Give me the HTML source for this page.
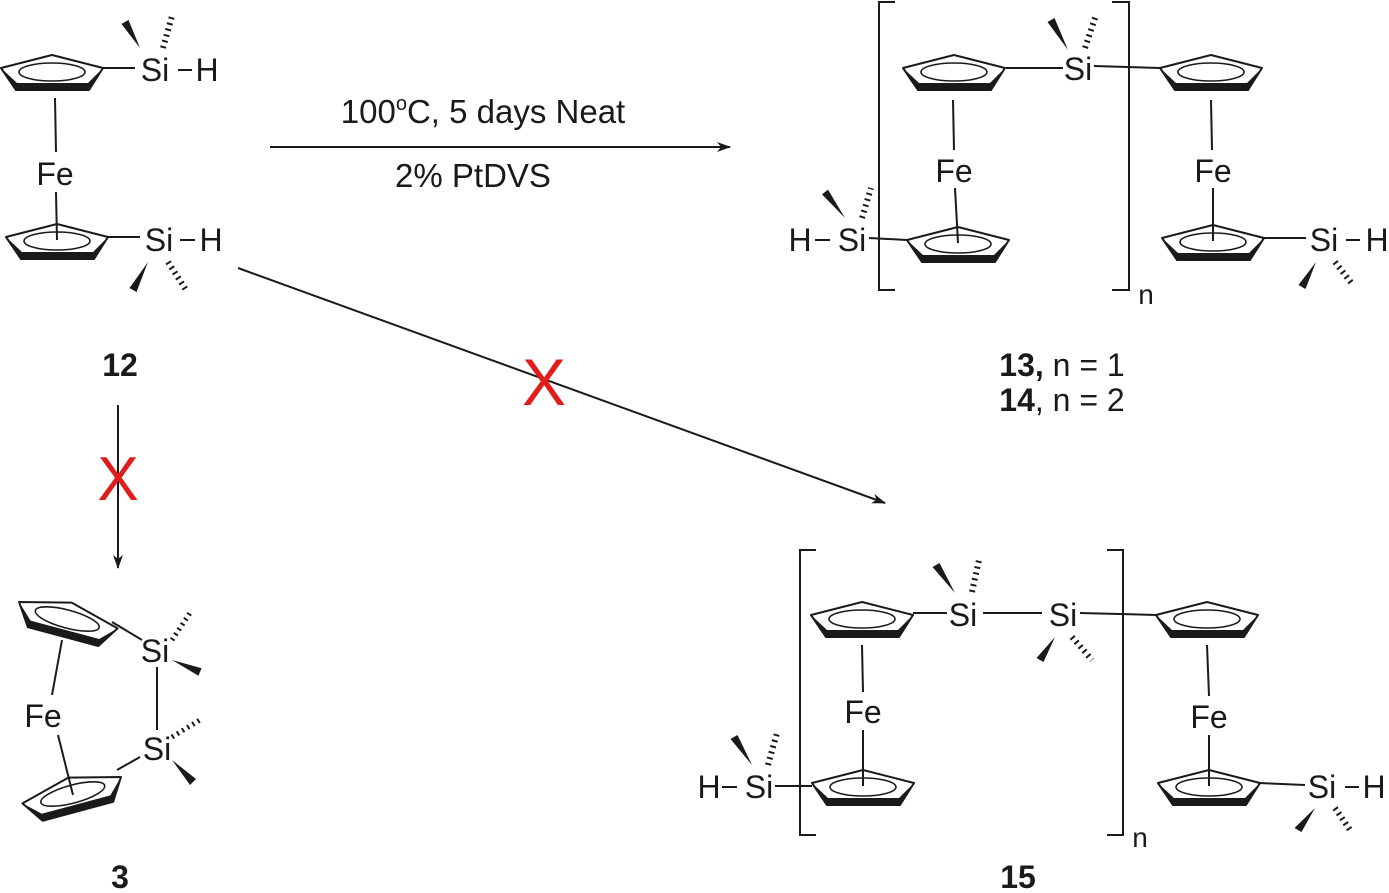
<!DOCTYPE html>
<html><head><meta charset="utf-8"><style>
html,body{margin:0;padding:0;background:#fff;}
svg{display:block;}
text{font-family:"Liberation Sans",Arial,sans-serif;fill:#1a1a1a;}
</style></head><body>
<svg width="1389" height="893" viewBox="0 0 1389 893" xmlns="http://www.w3.org/2000/svg">
<defs>
<g id="cp">
<polygon points="-51,-5 0,-18 51,-5 37,17 -36,17" fill="none" stroke="#1a1a1a" stroke-width="2" stroke-linejoin="round"/>
<polygon points="-51,-5 -36,17 37,17 51,-5 36,10 -35,10" fill="#1a1a1a"/>
<ellipse cx="0" cy="-1" rx="33" ry="9" fill="none" stroke="#1a1a1a" stroke-width="1.6"/>
</g>
<marker id="ah" markerWidth="14" markerHeight="10" refX="13" refY="5" orient="auto" markerUnits="userSpaceOnUse">
<path d="M0,0 L14,5 L0,10 L4,5 Z" fill="#1a1a1a"/>
</marker>
</defs>
<g stroke="#1a1a1a" stroke-width="2" fill="none">
<line x1="55" y1="98" x2="56" y2="152"/>
<line x1="56" y1="192" x2="57" y2="240"/>
<line x1="103" y1="68" x2="135" y2="68"/>
<line x1="178" y1="70" x2="192" y2="70"/>
<line x1="108" y1="237" x2="140" y2="237"/>
<line x1="180" y1="240" x2="195" y2="240"/>
<line x1="163" y1="48" x2="172" y2="16" stroke-width="6" stroke-dasharray="2 4"/>
<line x1="168" y1="262" x2="186" y2="290" stroke-width="6" stroke-dasharray="2 4"/>
<line x1="270" y1="147" x2="730" y2="147" marker-end="url(#ah)"/>
<line x1="238" y1="268" x2="885" y2="503" marker-end="url(#ah)"/>
<line x1="118" y1="405" x2="118" y2="568" marker-end="url(#ah)"/>
<path d="M895,2 H879 V290 H895"/>
<path d="M1112,2 H1129 V290 H1112"/>
<line x1="1006" y1="68" x2="1063" y2="68"/>
<line x1="1094" y1="66" x2="1160" y2="68"/>
<line x1="953" y1="100" x2="954" y2="150"/>
<line x1="955" y1="188" x2="958" y2="243"/>
<line x1="869" y1="238" x2="907" y2="240"/>
<line x1="815" y1="240" x2="830" y2="240"/>
<line x1="1211" y1="100" x2="1212" y2="150"/>
<line x1="1213" y1="188" x2="1213" y2="241"/>
<line x1="1262" y1="238" x2="1306" y2="238"/>
<line x1="1346" y1="240" x2="1360" y2="240"/>
<line x1="1085" y1="48" x2="1096" y2="15" stroke-width="6" stroke-dasharray="2 4"/>
<line x1="862" y1="218" x2="871" y2="188" stroke-width="6" stroke-dasharray="2 4"/>
<line x1="1335" y1="262" x2="1353" y2="285" stroke-width="6" stroke-dasharray="2 4"/>
<path d="M816,550 H800 V835 H816"/>
<path d="M1107,550 H1123 V835 H1107"/>
<line x1="913" y1="613" x2="947" y2="613"/>
<line x1="983" y1="613" x2="1042" y2="613"/>
<line x1="1080" y1="613" x2="1157" y2="615"/>
<line x1="862" y1="645" x2="863" y2="692"/>
<line x1="863" y1="730" x2="863" y2="786"/>
<line x1="775" y1="786" x2="812" y2="786"/>
<line x1="722" y1="787" x2="737" y2="787"/>
<line x1="1207" y1="645" x2="1209" y2="696"/>
<line x1="1209" y1="735" x2="1209" y2="786"/>
<line x1="1258" y1="783" x2="1305" y2="785"/>
<line x1="1345" y1="787" x2="1359" y2="787"/>
<line x1="972" y1="592" x2="979" y2="560" stroke-width="6" stroke-dasharray="2 4"/>
<line x1="1072" y1="637" x2="1092" y2="660" stroke-width="6" stroke-dasharray="2 4"/>
<line x1="768" y1="765" x2="777" y2="733" stroke-width="6" stroke-dasharray="2 4"/>
<line x1="1335" y1="808" x2="1350" y2="830" stroke-width="6" stroke-dasharray="2 4"/>
<line x1="62" y1="640" x2="52" y2="695"/>
<line x1="58" y1="735" x2="73" y2="795"/>
<line x1="112" y1="622" x2="142" y2="640"/>
<line x1="157" y1="667" x2="157" y2="730"/>
<line x1="117" y1="770" x2="140" y2="757"/>
<line x1="172" y1="640" x2="192" y2="610" stroke-width="5" stroke-dasharray="2 4"/>
<line x1="172" y1="737" x2="200" y2="720" stroke-width="5" stroke-dasharray="2 4"/>
</g>
<g fill="#1a1a1a">
<polygon points="140,48 128.5,20 121.5,24"/>
<polygon points="148,262 136.5,292 129.5,288"/>
<polygon points="1068,50 1054.5,18 1047.5,22"/>
<polygon points="845,218 828,189.6 822,194.4"/>
<polygon points="1316,262 1305.5,289 1298.5,285"/>
<polygon points="955,593 939.5,563 932.5,567"/>
<polygon points="1055,637 1043.5,662 1036.5,658"/>
<polygon points="752,765 737.5,735 730.5,739"/>
<polygon points="1315,808 1301.5,832 1294.5,828"/>
<polygon points="172,660 198.4,675.7 201.6,668.3"/>
<polygon points="172,760 190,785 196,779"/>
</g>
<use href="#cp" x="52" y="73"/>
<use href="#cp" x="57" y="242"/>
<use href="#cp" x="954" y="73"/>
<use href="#cp" x="1211" y="73"/>
<use href="#cp" x="958" y="245"/>
<use href="#cp" x="1213" y="243"/>
<use href="#cp" x="862" y="620"/>
<use href="#cp" x="1207" y="620"/>
<use href="#cp" x="863" y="788"/>
<use href="#cp" x="1209" y="788"/>
<g transform="translate(67,620) rotate(15)"><use href="#cp"/></g>
<g transform="translate(73,795) rotate(-15)"><use href="#cp"/></g>
<g font-size="32" text-anchor="middle">
<text x="155" y="81">Si</text><text x="207" y="81">H</text>
<text x="55" y="185">Fe</text>
<text x="159" y="251">Si</text><text x="211" y="251">H</text>
<text x="1078" y="80">Si</text>
<text x="954" y="182">Fe</text><text x="1213" y="182">Fe</text>
<text x="800" y="251">H</text><text x="852" y="251">Si</text>
<text x="1324" y="251">Si</text><text x="1377" y="251">H</text>
<text x="1146" y="304" font-size="28">n</text>
<text x="963" y="626">Si</text><text x="1063" y="626">Si</text>
<text x="863" y="723">Fe</text><text x="1209" y="728">Fe</text>
<text x="709" y="798">H</text><text x="759" y="798">Si</text>
<text x="1322" y="798">Si</text><text x="1374" y="798">H</text>
<text x="1140" y="847" font-size="28">n</text>
<text x="155" y="662">Si</text><text x="157" y="760">Si</text>
<text x="43" y="727">Fe</text>
<text x="120" y="376" font-weight="bold">12</text>
<text x="120" y="888" font-weight="bold">3</text>
<text x="1018" y="888" font-weight="bold">15</text>
<text x="1062" y="376"><tspan font-weight="bold">13,</tspan> n = 1</text>
<text x="1062" y="411"><tspan font-weight="bold">14</tspan>, n = 2</text>
</g>
<text x="483" y="123" font-size="33" text-anchor="middle">100<tspan font-size="20" dy="-13">o</tspan><tspan dy="13">C, 5 days Neat</tspan></text>
<text x="473" y="187" font-size="33" text-anchor="middle">2% PtDVS</text>
<text x="544" y="405" font-size="66" text-anchor="middle" style="fill:#e21b1b">X</text>
<text x="118" y="500" font-size="62" text-anchor="middle" style="fill:#e21b1b">X</text>
</svg>
</body></html>
